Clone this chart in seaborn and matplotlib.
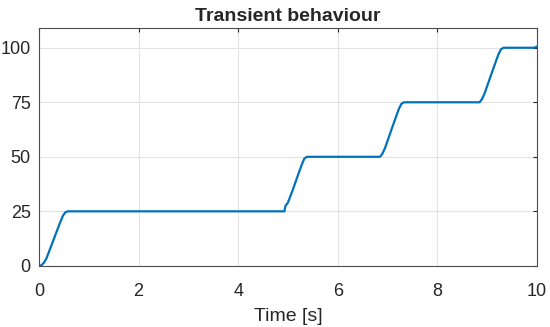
import pandas as pd
import matplotlib.pyplot as plt
import seaborn as sns

# values
time = [0.0, 0.05, 0.1, 0.15, 0.2, 0.3, 0.4, 0.48, 0.53, 0.58, 4.93, 4.95, 5.0, 5.1, 5.2, 5.28, 5.33, 5.38,
        6.85, 6.9, 6.95, 7.05, 7.15, 7.23, 7.28, 7.33,
        8.85, 8.9, 8.95, 9.05, 9.15, 9.23, 9.28, 9.33, 9.95, 10.0]
output = [0.0, 0.3, 1.5, 3.5, 6.5, 12.5, 18.5, 23.0, 24.6, 25.0, 25.0, 27.5, 29.0, 35.0, 41.5, 46.5, 49.2, 50.0,
          50.0, 51.5, 54.0, 60.5, 67.0, 72.0, 74.3, 75.0,
          75.0, 76.5, 79.0, 85.5, 92.0, 97.0, 99.3, 100.0, 100.0, 100.5]

df = pd.DataFrame({"Time": time, "Output": output})

sns.set_style("white")
plt.rcParams["font.family"] = ["Liberation Sans", "DejaVu Sans"]

fig, ax = plt.subplots(figsize=(5.5, 3.27), dpi=100)
sns.lineplot(data=df, x="Time", y="Output", color="#0072BD", linewidth=1.6, ax=ax)

ax.set_xlim(0, 10)
ax.set_ylim(0, 109)
ax.set_xticks([0, 2, 4, 6, 8, 10])
ax.set_yticks([0, 25, 50, 75, 100])
ax.grid(True, color="#e3e3e3", linewidth=0.8)
ax.set_axisbelow(True)
ax.tick_params(direction="in", length=3, labelsize=13, colors="#262626",
               top=True, right=True, pad=6)
ax.tick_params(axis="x", pad=12)
for s in ax.spines.values():
    s.set_color("#4d4d4d")
    s.set_linewidth(0.8)
ax.set_xlabel("Time [s]", fontsize=14, color="#262626", labelpad=6)
ax.set_ylabel("")
ax.set_title("Transient behaviour", fontsize=14, fontweight="bold", pad=5)

plt.subplots_adjust(left=0.071, right=0.976, top=0.914, bottom=0.187)
plt.savefig("out.png", dpi=100)
